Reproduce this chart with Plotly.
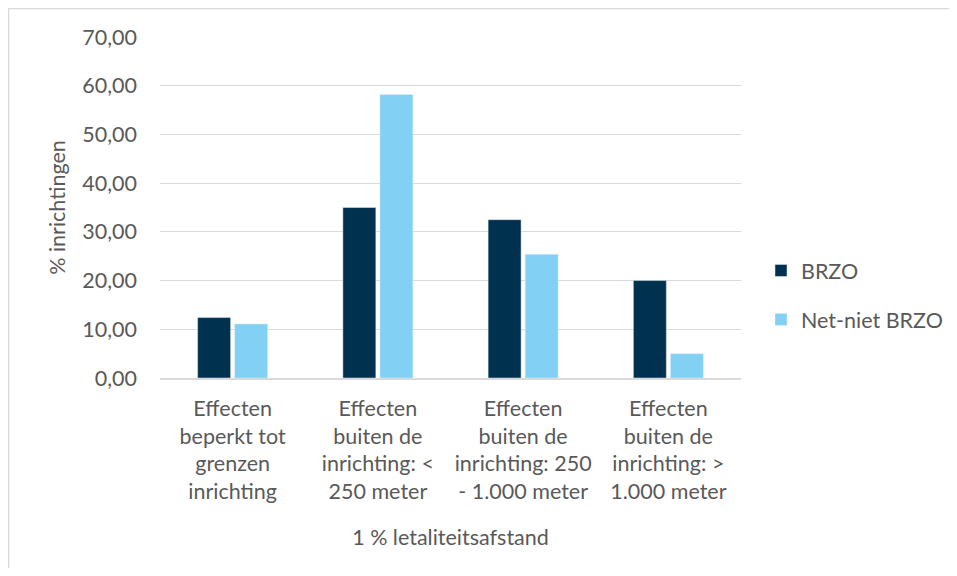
import plotly.graph_objects as go

categories = [
    "Effecten<br>beperkt tot<br>grenzen<br>inrichting",
    "Effecten<br>buiten de<br>inrichting: <<br>250 meter",
    "Effecten<br>buiten de<br>inrichting: 250<br>- 1.000 meter",
    "Effecten<br>buiten de<br>inrichting: ><br>1.000 meter",
]
brzo = [12.4, 35.0, 32.5, 20.0]
net_niet_brzo = [11.1, 58.2, 25.4, 5.0]
y_ticks = [0, 10, 20, 30, 40, 50, 60, 70]

FONT = "Lato, Carlito, 'Liberation Sans', sans-serif"
GRAY = "#595959"
FS = 21.5

fig = go.Figure()
fig.add_trace(go.Bar(name="BRZO", x=categories, y=brzo, marker_color="#00314F",
                     legendgroup="a"))
fig.add_trace(go.Bar(name="Net-niet BRZO", x=categories, y=net_niet_brzo,
                     marker_color="#82D0F4", legendgroup="b"))

# page is offset by the 8px body margin; keep the figure inside the window
OFF = 8
W, H = 957 - 2 * OFF, 576 - 2 * OFF
L, R, T, B = 160 - OFF, 741 - OFF, 37 - OFF, 378 - OFF
pw, ph = R - L, B - T

def px(x):  # page x -> paper
    return (x - OFF - L) / pw

def py(y):  # page y -> paper
    return (B - (y - OFF)) / ph

fig.update_layout(
    width=W, height=H,
    margin=dict(l=L, r=W - R, t=T, b=H - B, autoexpand=False),
    paper_bgcolor="white", plot_bgcolor="white",
    barmode="group", bargap=0.49, bargroupgap=0.11,
    separators=",.",
    font=dict(family=FONT, color=GRAY, size=FS),
    legend=dict(x=px(761), y=py(295), xanchor="left", yanchor="middle",
                font=dict(size=FS, color=GRAY), traceorder="grouped",
                tracegroupgap=18, itemwidth=30),
    showlegend=True,
    shapes=[
        dict(type="line", xref="paper", yref="paper", x0=px(8), x1=px(1100),
             y0=py(8.5), y1=py(8.5), line=dict(color="#d9d9d9", width=1.5)),
        dict(type="line", xref="paper", yref="paper", x0=px(8.5), x1=px(8.5),
             y0=py(8), y1=py(700), line=dict(color="#d9d9d9", width=1.5)),
    ],
)
fig.update_xaxes(
    showgrid=False, showline=True, linecolor="#d9d9d9", linewidth=1.5,
    tickfont=dict(size=FS, color=GRAY), ticks="", ticklabelstandoff=10,
    title=dict(text="1 % letaliteitsafstand", font=dict(size=FS, color=GRAY), standoff=27),
)
fig.update_yaxes(
    range=[0, 70], tickvals=y_ticks, tickformat=".2f",
    showgrid=True, gridcolor="#d9d9d9", gridwidth=1, zeroline=False,
    tickfont=dict(size=FS, color=GRAY), ticklabelstandoff=22,
    title=dict(text="% inrichtingen", font=dict(size=FS, color=GRAY), standoff=10),
)
fig.write_html("out.html", config={"displayModeBar": False})
